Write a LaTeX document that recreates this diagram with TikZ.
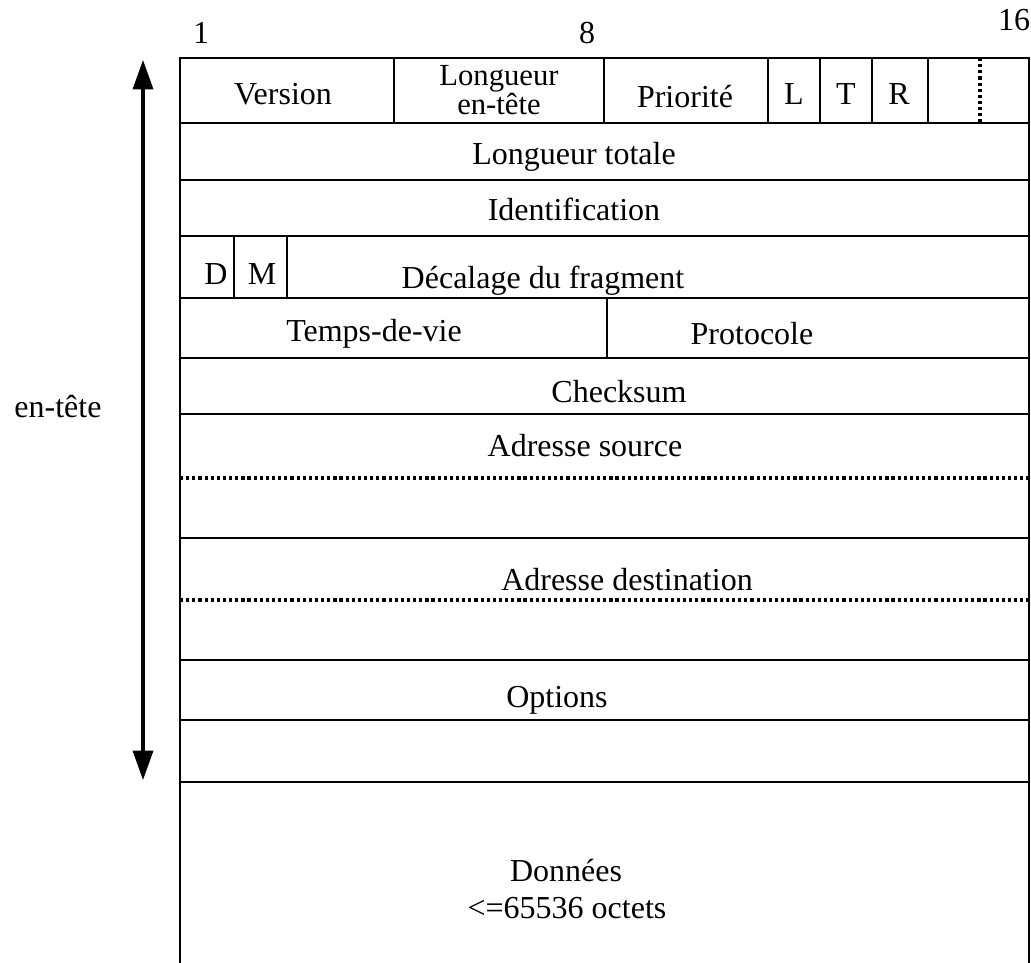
\documentclass[tikz,border=0pt]{standalone}
\usepackage{fontspec}
\setmainfont{Liberation Serif}
\usetikzlibrary{arrows.meta}
\begin{document}
\begin{tikzpicture}[x=0.75pt,y=-0.75pt,
  box/.style={line width=1.7pt},
  dotline/.style={line width=2.6pt,dash pattern=on 2.4pt off 2.2pt},
  lab/.style={inner sep=0pt,anchor=base,font=\fontsize{24}{26}\selectfont},
  small/.style={inner sep=0pt,anchor=base,font=\fontsize{23}{26}\selectfont}]
\useasboundingbox (0,0) rectangle (1031,963);
% outer frame (open bottom)
\draw[box] (180,963) -- (180,58) -- (1029,58) -- (1029,963);
% horizontal rules
\foreach \yy in {123,180,236,298,358,414,538,660,720,782}
  \draw[box] (180,\yy) -- (1029,\yy);
\draw[dotline] (180,478) -- (1029,478);
\draw[dotline] (180,600) -- (1029,600);
% first row dividers
\foreach \xx in {394,604,768,820,872,928}
  \draw[box] (\xx,58) -- (\xx,123);
\draw[dotline] (980,58) -- (980,123);
% row 4 dividers
\draw[box] (234,236) -- (234,298);
\draw[box] (287,236) -- (287,298);
% row 5 divider
\draw[box] (607,298) -- (607,358);
% bit numbers
\node[lab] (n1) at (201,44) {1};
\node[lab] (n8) at (587,44) {8};
\node[lab] (n16) at (1014,31) {16};
% first row texts
\node[lab] (ver) at (283,105) {Version};
\node[small] (lg1) at (499,86) {Longueur};
\node[small] (lg2) at (499,115) {en-tête};
\node[lab] (prio) at (685,108) {Priorité};
\node[lab] (fl) at (794,105) {L};
\node[lab] (ft) at (846,105) {T};
\node[lab] (fr) at (899,105) {R};
% other fields
\node[lab] (lt) at (574,165) {Longueur totale};
\node[lab] (id) at (574,220) {Identification};
\node[lab] (fd) at (216,284) {D};
\node[lab] (fm) at (262,284) {M};
\node[lab] (dec) at (543,288) {Décalage du fragment};
\node[lab] (ttl) at (374,341) {Temps-de-vie};
\node[lab] (proto) at (752,344) {Protocole};
\node[lab] (chk) at (619,402) {Checksum};
\node[lab] (src) at (585,456) {Adresse source};
\node[lab] (dst) at (627,590) {Adresse destination};
\node[lab] (opt) at (557,707) {Options};
\node[lab] (don) at (566,881) {Données};
\node[lab] (oct) at (567,918) {<=65536 octets};
% header arrow
\coordinate (atop) at (143,60);
\coordinate (abot) at (143,780);
\draw[line width=2.6pt,{Triangle[length=22pt,width=15pt]}-{Triangle[length=22pt,width=15pt]}] (atop) -- (abot);
\node[lab] (ent) at (58,417) {en-tête};
\end{tikzpicture}
\end{document}
